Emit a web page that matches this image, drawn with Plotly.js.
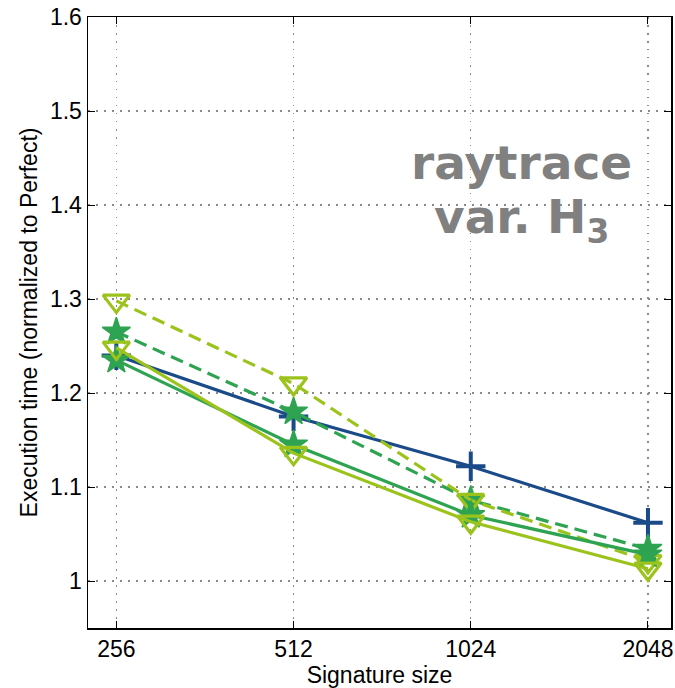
<!DOCTYPE html>
<html>
<head>
<meta charset="utf-8">
<script src="https://cdn.plot.ly/plotly-3.0.1.min.js"></script>
<style>html,body{margin:0;padding:0;background:#fff;}#chart{width:675px;height:688px;}</style>
</head>
<body>
<div id="chart"></div>
<script>
const categories = ["256", "512", "1024", "2048"];
const blueSolid = [1.240, 1.175, 1.122, 1.062];
const greenDashed = [1.265, 1.180, 1.086, 1.034];
const yellowDashed = [1.298, 1.210, 1.086, 1.021];
const greenSolid = [1.235, 1.145, 1.070, 1.028];
const yellowSolid = [1.248, 1.136, 1.063, 1.013];
const yTicks = [1, 1.1, 1.2, 1.3, 1.4, 1.5, 1.6];
const yTickLabels = ["1", "1.1", "1.2", "1.3", "1.4", "1.5", "1.6"];

const BLUE = "#1b4a89", GREEN = "#2ea351", YG = "#9cc31c";
const xIdx = categories.map((c, i) => i);

function tr(y, color, dash, symbol, size, mlw) {
  return {
    x: xIdx, y: y, type: "scatter", mode: "lines+markers",
    line: {color: color, width: 3.2, dash: dash},
    marker: {symbol: symbol, size: size, color: color, line: {color: color, width: mlw}},
    showlegend: false, hoverinfo: "skip"
  };
}

const data = [
  tr(blueSolid, BLUE, "solid", "cross-thin-open", 21, 4),
  tr(greenDashed, GREEN, "13px,7px", "star", 21, 1.5),
  tr(yellowDashed, YG, "13px,7px", "triangle-down-open", 23, 3.2),
  tr(greenSolid, GREEN, "solid", "star", 21, 1.5),
  tr(yellowSolid, YG, "solid", "triangle-down-open", 23, 3.2)
];

const font = {family: "Liberation Sans, Arial, sans-serif", color: "#000"};

const layout = {
  width: 675, height: 688,
  margin: {l: 88, r: 4, t: 17, b: 60},
  paper_bgcolor: "#fff", plot_bgcolor: "#fff",
  xaxis: {
    range: [-0.16, 3.13],
    tickvals: xIdx, ticktext: categories,
    tickfont: Object.assign({size: 23}, font),
    showline: true, linecolor: "#000", linewidth: 1.5, mirror: "ticks",
    ticks: "inside", ticklen: 7, tickcolor: "#000",
    showgrid: true, gridcolor: "#8a8a8a", griddash: "1.5px,6.5px", gridwidth: 1.2,
    zeroline: false,
    title: {text: "Signature size", font: Object.assign({size: 23}, font), standoff: 2}
  },
  yaxis: {
    range: [0.95, 1.6],
    tickvals: yTicks, ticktext: yTickLabels,
    tickfont: Object.assign({size: 23}, font),
    showline: true, linecolor: "#000", linewidth: 1.5, mirror: "ticks",
    ticks: "inside", ticklen: 7, tickcolor: "#000",
    showgrid: true, gridcolor: "#8a8a8a", griddash: "1.5px,6.5px", gridwidth: 1.2,
    zeroline: false,
    title: {text: "Execution time (normalized to Perfect)", font: Object.assign({size: 23}, font), standoff: 6}
  },
  annotations: [
    {xref: "paper", yref: "paper", x: 0.743, y: 0.762, xanchor: "center", yanchor: "middle",
     text: "raytrace", showarrow: false,
     font: {family: "DejaVu Sans", size: 47, color: "#808080", weight: "bold"}},
    {xref: "paper", yref: "paper", x: 0.743, y: 0.668, xanchor: "center", yanchor: "middle",
     text: "var. H<sub>3</sub>", showarrow: false,
     font: {family: "DejaVu Sans", size: 47, color: "#808080", weight: "bold"}}
  ]
};

Plotly.newPlot("chart", data, layout, {staticPlot: true, displayModeBar: false});
</script>
</body>
</html>
